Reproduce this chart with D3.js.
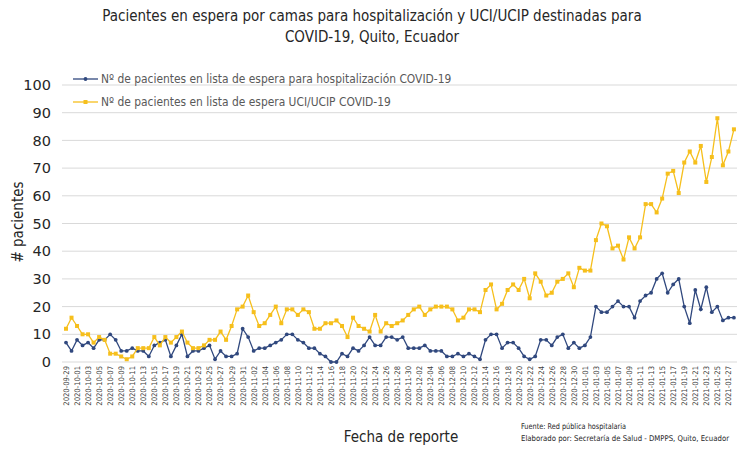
<!DOCTYPE html>
<html>
<head>
<meta charset="utf-8">
<script src="https://cdn.jsdelivr.net/npm/d3@7"></script>
<style>
  body { margin: 0; background: #fff; }
  text { font-family: "DejaVu Sans Condensed", "DejaVu Sans", sans-serif; }
</style>
</head>
<body>
<div class="chart"></div>
<script>
// Daily data 2020-09-29 .. 2021-01-28
var startDate = "2020-09-29";
var dayCount = 122;

var hospitalizacion = [
  7, 4, 8, 6, 7, 5, 8, 8, 10, 8, 4, 4, 5, 4, 4, 2, 6, 7, 8, 2, 6, 10, 2, 4, 4, 5, 6, 1, 4, 2,
  2, 3, 12, 9, 4, 5, 5, 6, 7, 8, 10, 10, 8, 7, 5, 5, 3, 2, 0, 0, 3, 2, 5, 4, 6, 9, 6, 6, 9, 9,
  8, 9, 5, 5, 5, 6, 4, 4, 4, 2, 2, 3, 2, 3, 2, 1, 8, 10, 10, 5, 7, 7, 5, 2, 1, 2, 8, 8, 6, 9,
  10, 5, 7, 5, 6, 9, 20, 18, 18, 20, 22, 20, 20, 16, 22, 24, 25, 30, 32, 25, 28, 30, 20, 14, 26, 19,
  27, 18, 20, 15, 16, 16
];

var uciUcip = [
  12, 16, 13, 10, 10, 7, 9, 8, 3, 3, 2, 1, 2, 5, 5, 5, 9, 6, 9, 7, 9, 11, 7, 5, 5, 6, 8, 8, 11, 8,
  13, 19, 20, 24, 18, 13, 14, 17, 20, 14, 19, 19, 17, 19, 18, 12, 12, 14, 14, 15, 13, 9, 16, 13, 12, 11, 17, 11, 14, 13,
  14, 15, 17, 19, 20, 17, 19, 20, 20, 20, 19, 15, 16, 19, 19, 18, 26, 28, 19, 21, 26, 28, 26, 30, 23, 32, 29, 24, 25, 29,
  30, 32, 27, 34, 33, 33, 44, 50, 49, 41, 42, 37, 45, 41, 45, 57, 57, 54, 59, 68, 69, 61, 72, 76, 72, 78,
  65, 74, 88, 71, 76, 84
];

var yTicks = [0, 10, 20, 30, 40, 50, 60, 70, 80, 90, 100];

var seriesNames = [
  "Nº de pacientes en lista de espera para hospitalización COVID-19",
  "Nº de pacientes en lista de espera UCI/UCIP COVID-19"
];
var seriesColors = ["#30487E", "#F6BF1C"];

var svgWidth = 739;
var svgHeight = 450;

var fmt = d3.timeFormat("%Y-%m-%d");
var t0 = d3.timeParse("%Y-%m-%d")(startDate);
var dates = d3.range(dayCount).map(function(i) { return fmt(d3.timeDay.offset(t0, i)); });

var svg = d3.select(".chart")
  .append("svg")
  .attr("width", svgWidth)
  .attr("height", svgHeight);

// scales
var xScale = d3.scalePoint().domain(dates).range([66, 66 + 5.52 * (dayCount - 1)]);
var yScale = d3.scaleLinear().domain([0, 100]).range([362, 85]);

// gridlines
svg.append("g")
  .selectAll("line")
  .data(yTicks)
  .enter()
  .append("line")
  .attr("x1", 62)
  .attr("x2", 737)
  .attr("y1", function(d) { return yScale(d); })
  .attr("y2", function(d) { return yScale(d); })
  .attr("stroke", "#d9d9d9")
  .attr("stroke-width", 1);

// y axis labels
var leftAxis = d3.axisLeft(yScale).tickValues(yTicks).tickSize(0).tickPadding(0);
var yAxisG = svg.append("g").attr("transform", "translate(51,0)").call(leftAxis);
yAxisG.select(".domain").remove();
yAxisG.selectAll("text")
  .attr("font-size", 14.5)
  .attr("fill", "#262626")
  .style("font-family", "'DejaVu Sans', sans-serif");

// x axis labels, every other day
var bottomAxis = d3.axisBottom(xScale)
  .tickValues(dates.filter(function(d, i) { return i % 2 === 0; }))
  .tickSize(0);
var xAxisG = svg.append("g").attr("transform", "translate(0,364)").call(bottomAxis);
xAxisG.select(".domain").remove();
xAxisG.selectAll("text")
  .attr("font-size", 7.6)
  .attr("fill", "#404040")
  .attr("transform", "rotate(-90)")
  .attr("text-anchor", "end")
  .attr("x", -2)
  .attr("y", 0)
  .attr("dy", "0.32em");

// lines + markers
var allSeries = [hospitalizacion, uciUcip];
var line = d3.line()
  .x(function(d, i) { return xScale(dates[i]); })
  .y(function(d) { return yScale(d); });

allSeries.forEach(function(values, s) {
  svg.append("path")
    .datum(values)
    .attr("fill", "none")
    .attr("stroke", seriesColors[s])
    .attr("stroke-width", 1.3)
    .attr("d", line);

  if (s === 0) {
    svg.append("g").selectAll("circle")
      .data(values).enter().append("circle")
      .attr("cx", function(d, i) { return xScale(dates[i]); })
      .attr("cy", function(d) { return yScale(d); })
      .attr("r", 1.9)
      .attr("fill", seriesColors[s]);
  } else {
    svg.append("g").selectAll("rect")
      .data(values).enter().append("rect")
      .attr("x", function(d, i) { return xScale(dates[i]) - 2; })
      .attr("y", function(d) { return yScale(d) - 2; })
      .attr("width", 4)
      .attr("height", 4)
      .attr("fill", seriesColors[s]);
  }
});

// legend
var legend = svg.append("g");
seriesNames.forEach(function(name, s) {
  var ly = 79 + s * 23;
  legend.append("line")
    .attr("x1", 73).attr("x2", 98)
    .attr("y1", ly).attr("y2", ly)
    .attr("stroke", seriesColors[s]).attr("stroke-width", 1.3);
  if (s === 0) {
    legend.append("circle").attr("cx", 85.5).attr("cy", ly).attr("r", 1.9).attr("fill", seriesColors[s]);
  } else {
    legend.append("rect").attr("x", 83.5).attr("y", ly - 2).attr("width", 4).attr("height", 4).attr("fill", seriesColors[s]);
  }
  legend.append("text")
    .attr("x", 101).attr("y", ly)
    .attr("dy", "0.35em")
    .attr("font-size", 11.9)
    .attr("fill", "#595959")
    .text(name);
});

// title
var title = svg.append("text")
  .attr("text-anchor", "middle")
  .attr("font-size", 15)
  .attr("fill", "#262626");
title.append("tspan").attr("x", 372).attr("y", 21)
  .text("Pacientes en espera por camas para hospitalización y UCI/UCIP destinadas para");
title.append("tspan").attr("x", 372).attr("y", 42)
  .text("COVID-19, Quito, Ecuador");

// axis titles
svg.append("text")
  .attr("transform", "translate(23,222) rotate(-90)")
  .attr("text-anchor", "middle")
  .attr("font-size", 15)
  .attr("fill", "#262626")
  .text("# pacientes");

svg.append("text")
  .attr("x", 401).attr("y", 442)
  .attr("text-anchor", "middle")
  .attr("font-size", 15)
  .attr("fill", "#262626")
  .text("Fecha de reporte");

// source notes
var notes = svg.append("g")
  .attr("font-size", 7.9)
  .attr("fill", "#262626");
notes.append("text")
  .attr("x", 521).attr("y", 429)
  .attr("textLength", 105)
  .attr("lengthAdjust", "spacingAndGlyphs")
  .text("Fuente: Red pública hospitalaria");
notes.append("text")
  .attr("x", 521).attr("y", 441)
  .attr("textLength", 208)
  .attr("lengthAdjust", "spacingAndGlyphs")
  .text("Elaborado por: Secretaría de Salud - DMPPS, Quito, Ecuador");
</script>
</body>
</html>
